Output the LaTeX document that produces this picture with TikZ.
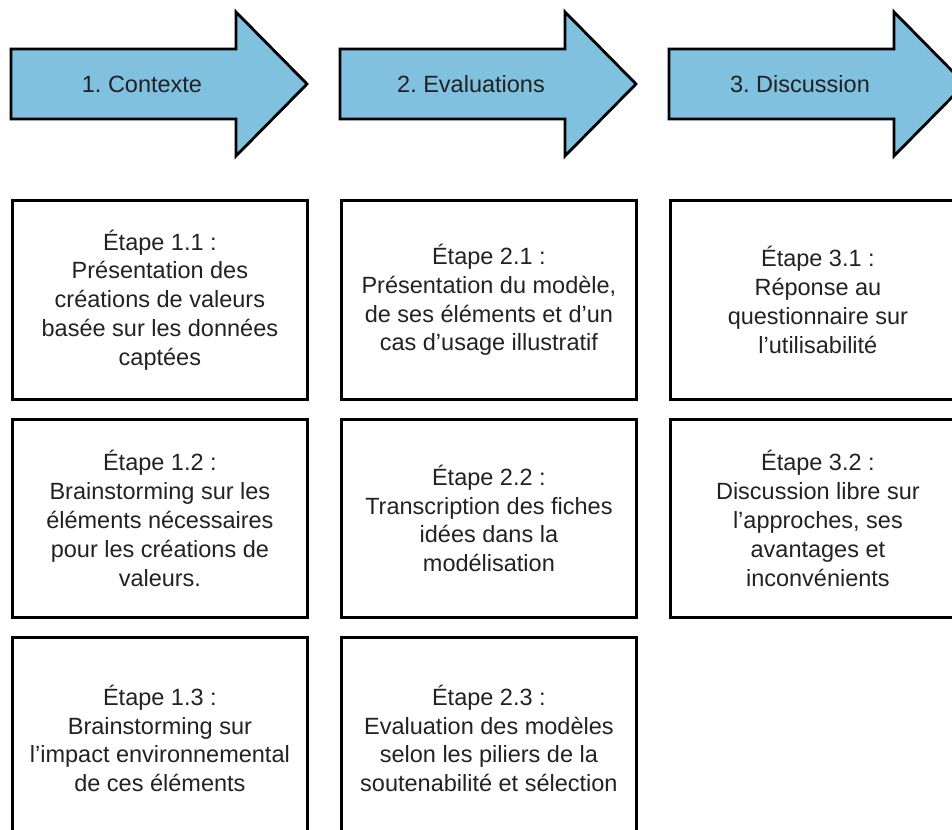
\documentclass[tikz,border=0pt]{standalone}
\usepackage{fontspec}
\setmainfont{Liberation Sans}
\definecolor{arrowblue}{HTML}{7FC1DF}
\definecolor{txtcol}{HTML}{222222}
\begin{document}
\frenchspacing
\begin{tikzpicture}[x=1pt,y=-1pt,
  txtfont/.style={font=\fontsize{23.5}{28.8}\selectfont\frenchspacing, text=txtcol},
  stepbox/.style={draw=black, line width=2.8pt, fill=white, rectangle,
    anchor=north west, minimum width=295pt, inner sep=0pt, align=center, txtfont},
  phasearrow/.style={draw=black, line width=2.8pt, fill=arrowblue, line join=miter},
  phaselabel/.style={txtfont, inner sep=0pt}]
\useasboundingbox (0,0) rectangle (952,829);
\clip (0,0) rectangle (952,829);
% phase arrows
\foreach \x/\n/\t in {11/a1/{1. Contexte}, 340/a2/{2. Evaluations}, 669/a3/{3. Discussion}}{
  \draw[phasearrow] (\x,49) -- (\x+225,49) -- (\x+225,12) -- (\x+296,84)
     -- (\x+225,156) -- (\x+225,119) -- (\x,119) -- cycle;
  \node[phaselabel] (\n) at (\x+131,84) {\t};
}
% column 1
\node[stepbox, minimum height=199pt] (e11) at (11,199) {Étape 1.1 :\\Présentation des\\créations de valeurs\\basée sur les données\\captées};
\node[stepbox, minimum height=198pt] (e12) at (11,418) {Étape 1.2 :\\Brainstorming sur les\\éléments nécessaires\\pour les créations de\\valeurs.};
\node[stepbox, minimum height=202pt] (e13) at (11,636) {Étape 1.3 :\\Brainstorming sur\\l’impact environnemental\\de ces éléments};
% column 2
\node[stepbox, minimum height=199pt] (e21) at (340,199) {Étape 2.1 :\\Présentation du modèle,\\de ses éléments et d’un\\cas d’usage illustratif};
\node[stepbox, minimum height=198pt] (e22) at (340,418) {Étape 2.2 :\\Transcription des fiches\\idées dans la\\modélisation};
\node[stepbox, minimum height=202pt] (e23) at (340,636) {Étape 2.3 :\\Evaluation des modèles\\selon les piliers de la\\soutenabilité et sélection};
% column 3
\node[stepbox, minimum height=199pt] (e31) at (669,199) {Étape 3.1 :\\Réponse au\\questionnaire sur\\l’utilisabilité};
\node[stepbox, minimum height=198pt] (e32) at (669,418) {Étape 3.2 :\\Discussion libre sur\\l’approches, ses\\avantages et\\inconvénients};
\end{tikzpicture}
\end{document}
